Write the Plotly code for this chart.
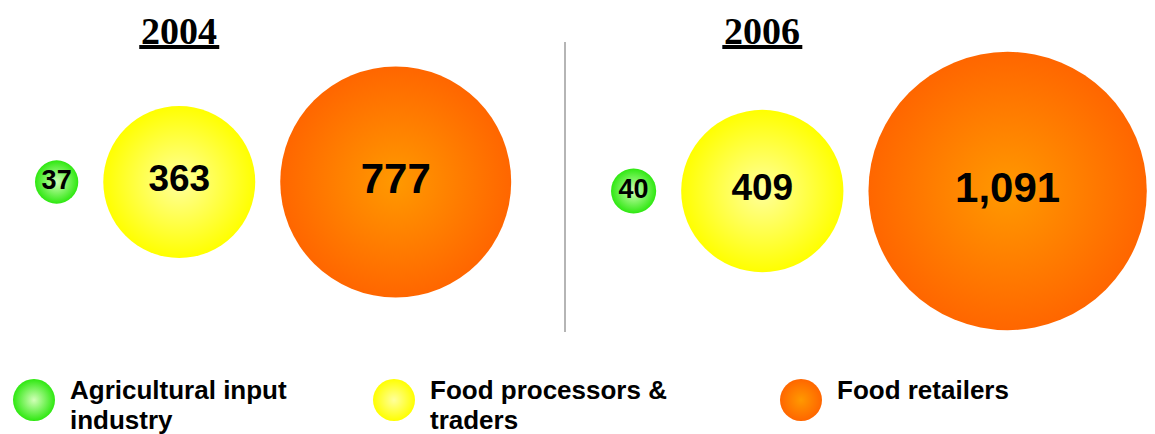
import plotly.graph_objects as go

years = ["2004", "2006"]
categories = ["Agricultural input<br>industry", "Food processors &<br>traders", "Food retailers"]
agri_input = [37, 40]
processors = [363, 409]
retailers = [777, 1091]

W, H = 1155, 434
series = [agri_input, processors, retailers]
edge_colors = ["#2ee810", "#ffff00", "#ff6600"]
center_colors = ["#d2ffb8", "#ffff9c", "#ff9900"]
label_sizes = [27, 37, 42]

# bubble diameter (px) grows with value, bubbles packed left to right per panel
def diameter(v):
    return 5.94 * v ** 0.55

panel_start = [35, 611]
panel_y = [182, 191]
gap = 25

xs = [[0, 0] for _ in series]
for p in range(len(years)):
    left = panel_start[p]
    for i, s in enumerate(series):
        d = diameter(s[p])
        xs[i][p] = left + d / 2
        left += d + gap

fig = go.Figure()

for i, s in enumerate(series):
    fig.add_trace(go.Scatter(
        x=xs[i],
        y=panel_y,
        customdata=s,
        mode="markers+text",
        texttemplate="<b>%{customdata:,}</b>",
        textposition="middle center",
        textfont=dict(family="Liberation Sans, Arial", size=label_sizes[i], color="black"),
        marker=dict(
            size=[diameter(v) for v in s],
            color=edge_colors[i],
            gradient=dict(type="radial", color=center_colors[i]),
            line=dict(width=0),
            opacity=1,
        ),
        showlegend=False,
        hoverinfo="skip",
    ))

# custom legend
legend_x = [34, 394, 801]
fig.add_trace(go.Scatter(
    x=legend_x,
    y=[400] * 3,
    mode="markers",
    marker=dict(size=42, color=edge_colors, gradient=dict(type="radial", color=center_colors),
                line=dict(width=0)),
    showlegend=False,
    hoverinfo="skip",
))

annotations = []
for i, name in enumerate(categories):
    # one annotation per line so the line spacing can be kept tight
    for k, line in enumerate(name.split("<br>")):
        annotations.append(dict(
            x=legend_x[i] + 34, y=390 + 30 * k, xref="x", yref="y",
            text="<b>" + line + "</b>", showarrow=False,
            xanchor="left", yanchor="middle", align="left",
            font=dict(family="Liberation Sans, Arial", size=26, color="black"),
        ))

for p, yr in enumerate(years):
    annotations.append(dict(
        x=xs[1][p], y=31, xref="x", yref="y",
        text="<b>" + yr + "</b>", showarrow=False,
        xanchor="center", yanchor="middle",
        font=dict(family="Liberation Serif, Times New Roman", size=38, color="black"),
    ))
    # thick underline below year heading
    fig.add_shape(type="line", x0=xs[1][p] - 40, x1=xs[1][p] + 40, y0=47, y1=47,
                  xref="x", yref="y", line=dict(color="black", width=4))

fig.add_shape(type="line", x0=565, x1=565, y0=42, y1=332, xref="x", yref="y",
              line=dict(color="#b5b5b5", width=2))

fig.update_layout(
    width=W, height=H,
    margin=dict(l=0, r=0, t=0, b=0),
    paper_bgcolor="white",
    plot_bgcolor="white",
    xaxis=dict(range=[0, W], visible=False, fixedrange=True),
    yaxis=dict(range=[H, 0], visible=False, fixedrange=True),
    annotations=annotations,
)

fig.write_html("out.html", config={"displayModeBar": False},
               post_script="document.body.style.margin = '0';")
